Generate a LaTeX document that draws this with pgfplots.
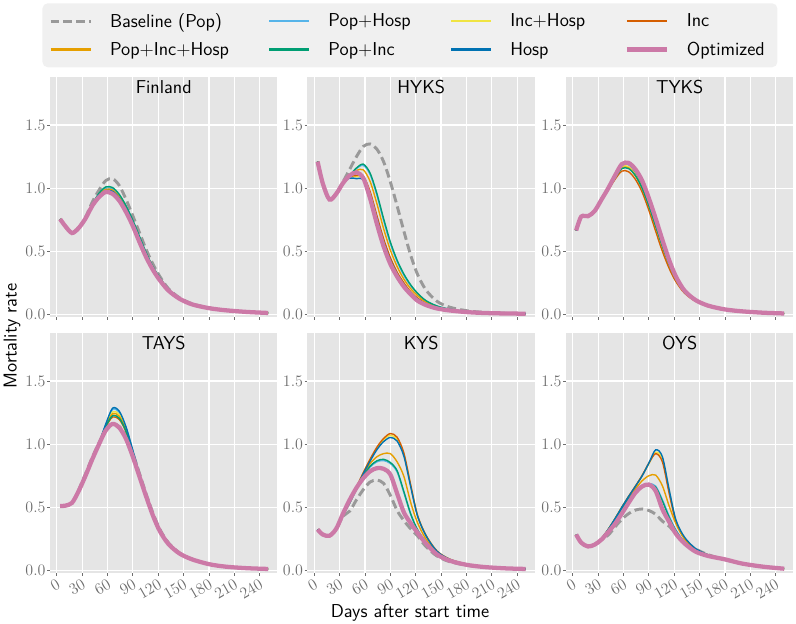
\documentclass[border=0pt]{standalone}
\usepackage{fontspec}
\usepackage{pgfplots}
\usepackage{pgfplotstable}
\pgfplotsset{compat=1.18}
\definecolor{panelbg}{RGB}{229,229,229}
\definecolor{legbg}{RGB}{240,240,240}
\definecolor{tickgray}{RGB}{110,110,110}
\definecolor{colBase}{RGB}{153,153,153}
\definecolor{colPopHosp}{RGB}{86,180,233}
\definecolor{colIncHosp}{RGB}{240,228,66}
\definecolor{colInc}{RGB}{213,94,0}
\definecolor{colPopIncHosp}{RGB}{230,159,0}
\definecolor{colPopInc}{RGB}{0,158,115}
\definecolor{colHosp}{RGB}{0,114,178}
\definecolor{colOpt}{RGB}{204,121,167}

\pgfplotstableread{
x base ph ih inc pih pi hosp opt
4 0.755 0.755 0.755 0.755 0.755 0.755 0.755 0.755
10 0.70 0.70 0.70 0.70 0.70 0.70 0.70 0.70
18 0.645 0.645 0.645 0.645 0.645 0.645 0.645 0.645
26 0.685 0.685 0.685 0.685 0.685 0.685 0.685 0.685
34 0.77 0.765 0.765 0.765 0.765 0.765 0.765 0.76
42 0.89 0.87 0.868 0.866 0.869 0.872 0.867 0.86
50 0.985 0.955 0.947 0.943 0.95 0.96 0.945 0.93
58 1.06 1.00 0.985 0.977 0.99 1.01 0.98 0.97
66 1.075 0.995 0.98 0.97 0.985 1.005 0.975 0.955
74 1.02 0.94 0.925 0.915 0.93 0.95 0.92 0.90
82 0.91 0.852 0.84 0.83 0.845 0.86 0.835 0.81
90 0.78 0.74 0.73 0.72 0.735 0.745 0.725 0.70
98 0.645 0.61 0.60 0.593 0.605 0.615 0.597 0.57
106 0.51 0.48 0.475 0.47 0.478 0.485 0.472 0.45
114 0.395 0.372 0.368 0.365 0.37 0.375 0.366 0.35
122 0.30 0.288 0.285 0.283 0.286 0.29 0.284 0.27
132 0.205 0.198 0.197 0.196 0.198 0.20 0.196 0.19
145 0.133 0.13 0.129 0.128 0.13 0.13 0.128 0.125
160 0.085 0.083 0.082 0.082 0.083 0.083 0.082 0.08
180 0.052 0.051 0.051 0.051 0.051 0.051 0.051 0.05
200 0.034 0.034 0.034 0.034 0.034 0.034 0.034 0.033
225 0.02 0.02 0.02 0.02 0.02 0.02 0.02 0.02
250 0.012 0.012 0.012 0.012 0.012 0.012 0.012 0.012
}\tFin

\pgfplotstableread{
x base ph ih inc pih pi hosp opt
4 1.21 1.21 1.21 1.21 1.21 1.21 1.21 1.21
10 1.04 1.04 1.04 1.04 1.04 1.04 1.04 1.04
18 0.91 0.91 0.91 0.91 0.91 0.91 0.91 0.91
26 0.955 0.955 0.955 0.955 0.955 0.955 0.955 0.955
34 1.05 1.04 1.04 1.04 1.04 1.04 1.04 1.04
42 1.15 1.10 1.09 1.09 1.10 1.10 1.08 1.10
50 1.25 1.155 1.09 1.10 1.14 1.16 1.075 1.125
58 1.33 1.18 1.085 1.095 1.145 1.19 1.07 1.08
66 1.35 1.11 0.965 0.975 1.055 1.12 0.95 0.92
74 1.31 0.945 0.775 0.785 0.88 0.96 0.76 0.72
82 1.21 0.745 0.59 0.60 0.68 0.76 0.575 0.54
90 1.05 0.56 0.44 0.45 0.51 0.575 0.43 0.40
98 0.86 0.42 0.33 0.335 0.38 0.43 0.32 0.30
106 0.66 0.31 0.245 0.25 0.28 0.32 0.237 0.22
114 0.47 0.228 0.178 0.18 0.205 0.235 0.172 0.16
122 0.32 0.165 0.128 0.13 0.15 0.17 0.124 0.11
132 0.195 0.107 0.087 0.088 0.097 0.11 0.084 0.075
145 0.105 0.066 0.055 0.055 0.06 0.068 0.053 0.048
160 0.058 0.041 0.035 0.035 0.038 0.042 0.034 0.032
180 0.03 0.024 0.02 0.02 0.022 0.024 0.02 0.019
200 0.017 0.015 0.013 0.013 0.014 0.015 0.013 0.012
225 0.01 0.009 0.008 0.008 0.008 0.009 0.008 0.008
250 0.007 0.006 0.006 0.006 0.006 0.006 0.006 0.006
}\tHyks

\pgfplotstableread{
x base ph ih inc pih pi hosp opt
4 0.665 0.665 0.665 0.665 0.665 0.665 0.665 0.665
10 0.775 0.775 0.775 0.775 0.775 0.775 0.775 0.775
18 0.778 0.778 0.778 0.778 0.778 0.778 0.778 0.778
26 0.82 0.82 0.82 0.82 0.82 0.82 0.82 0.82
34 0.91 0.905 0.905 0.90 0.905 0.905 0.905 0.91
42 1.00 0.995 0.99 0.985 0.99 0.99 0.995 1.00
50 1.10 1.09 1.085 1.07 1.08 1.08 1.09 1.10
58 1.19 1.18 1.17 1.135 1.16 1.155 1.185 1.19
66 1.20 1.185 1.17 1.13 1.16 1.155 1.19 1.20
74 1.15 1.125 1.11 1.07 1.10 1.10 1.13 1.15
82 1.06 1.03 1.01 0.97 1.00 1.00 1.035 1.06
90 0.92 0.89 0.87 0.825 0.86 0.86 0.895 0.92
98 0.76 0.73 0.705 0.66 0.695 0.70 0.735 0.76
106 0.59 0.565 0.545 0.50 0.535 0.54 0.57 0.59
114 0.43 0.41 0.40 0.365 0.39 0.395 0.415 0.43
122 0.30 0.287 0.28 0.26 0.275 0.278 0.29 0.30
132 0.19 0.183 0.18 0.17 0.177 0.178 0.185 0.19
145 0.115 0.112 0.11 0.105 0.109 0.11 0.112 0.115
160 0.07 0.069 0.068 0.066 0.068 0.068 0.069 0.07
180 0.04 0.04 0.04 0.04 0.04 0.04 0.04 0.04
200 0.025 0.025 0.025 0.025 0.025 0.025 0.025 0.025
225 0.014 0.014 0.014 0.014 0.014 0.014 0.014 0.014
250 0.008 0.008 0.008 0.008 0.008 0.008 0.008 0.008
}\tTyks

\pgfplotstableread{
x base ph ih inc pih pi hosp opt
4 0.51 0.51 0.51 0.51 0.51 0.51 0.51 0.51
10 0.513 0.513 0.513 0.513 0.513 0.513 0.513 0.513
18 0.535 0.535 0.535 0.535 0.535 0.535 0.535 0.535
26 0.64 0.63 0.63 0.63 0.63 0.63 0.63 0.63
34 0.765 0.75 0.75 0.75 0.75 0.75 0.75 0.75
42 0.895 0.88 0.88 0.88 0.88 0.88 0.88 0.88
50 1.01 1.01 1.01 1.005 1.005 1.005 1.01 1.00
58 1.115 1.155 1.15 1.135 1.145 1.14 1.16 1.11
66 1.16 1.275 1.255 1.215 1.24 1.225 1.285 1.16
74 1.14 1.25 1.235 1.195 1.22 1.205 1.26 1.13
82 1.06 1.13 1.12 1.095 1.11 1.10 1.135 1.04
90 0.925 0.945 0.94 0.925 0.935 0.93 0.95 0.90
98 0.765 0.758 0.755 0.748 0.752 0.75 0.76 0.74
106 0.60 0.584 0.583 0.58 0.582 0.58 0.585 0.58
114 0.45 0.434 0.433 0.43 0.432 0.43 0.435 0.43
122 0.325 0.312 0.311 0.31 0.311 0.31 0.313 0.31
132 0.22 0.21 0.21 0.21 0.21 0.21 0.21 0.21
145 0.14 0.135 0.135 0.135 0.135 0.135 0.135 0.135
160 0.09 0.088 0.088 0.088 0.088 0.088 0.088 0.088
180 0.05 0.05 0.05 0.05 0.05 0.05 0.05 0.05
200 0.03 0.03 0.03 0.03 0.03 0.03 0.03 0.03
225 0.018 0.018 0.018 0.018 0.018 0.018 0.018 0.018
250 0.012 0.012 0.012 0.012 0.012 0.012 0.012 0.012
}\tTays

\pgfplotstableread{
x base ph ih inc pih pi hosp opt
4 0.325 0.325 0.325 0.325 0.325 0.325 0.325 0.325
10 0.285 0.285 0.285 0.285 0.285 0.285 0.285 0.285
18 0.275 0.275 0.275 0.275 0.275 0.275 0.275 0.275
26 0.33 0.33 0.33 0.33 0.33 0.33 0.33 0.33
34 0.43 0.44 0.44 0.44 0.44 0.44 0.44 0.45
42 0.47 0.535 0.54 0.54 0.537 0.535 0.538 0.56
50 0.56 0.643 0.658 0.66 0.65 0.645 0.655 0.655
58 0.64 0.742 0.77 0.775 0.755 0.745 0.765 0.73
66 0.70 0.818 0.875 0.88 0.845 0.825 0.865 0.785
74 0.716 0.86 0.965 0.975 0.90 0.868 0.955 0.81
82 0.69 0.87 1.035 1.045 0.925 0.88 1.02 0.805
90 0.595 0.847 1.07 1.084 0.925 0.855 1.053 0.76
98 0.475 0.78 1.04 1.055 0.86 0.79 1.025 0.61
106 0.395 0.615 0.92 0.93 0.745 0.625 0.905 0.46
114 0.33 0.445 0.675 0.68 0.54 0.45 0.665 0.375
122 0.275 0.32 0.44 0.44 0.38 0.325 0.435 0.30
132 0.19 0.225 0.28 0.28 0.25 0.228 0.277 0.215
145 0.115 0.135 0.155 0.155 0.145 0.137 0.153 0.128
160 0.07 0.08 0.09 0.09 0.086 0.082 0.089 0.078
180 0.042 0.046 0.05 0.05 0.048 0.046 0.049 0.045
200 0.027 0.028 0.03 0.03 0.029 0.028 0.03 0.028
225 0.017 0.017 0.018 0.018 0.018 0.017 0.018 0.017
250 0.012 0.012 0.012 0.012 0.012 0.012 0.012 0.012
}\tKys

\pgfplotstableread{
x base ph ih inc pih pi hosp opt
4 0.285 0.285 0.285 0.285 0.285 0.285 0.285 0.285
10 0.22 0.22 0.22 0.22 0.22 0.22 0.22 0.22
18 0.19 0.19 0.19 0.19 0.19 0.19 0.19 0.19
26 0.205 0.205 0.205 0.205 0.205 0.205 0.205 0.205
34 0.245 0.252 0.252 0.252 0.252 0.252 0.252 0.245
42 0.28 0.325 0.325 0.325 0.325 0.325 0.325 0.305
50 0.345 0.405 0.41 0.41 0.408 0.405 0.41 0.37
58 0.405 0.49 0.50 0.50 0.497 0.49 0.50 0.45
66 0.45 0.568 0.585 0.586 0.575 0.565 0.585 0.535
74 0.478 0.635 0.665 0.667 0.645 0.628 0.665 0.615
82 0.487 0.675 0.75 0.752 0.71 0.668 0.748 0.665
90 0.475 0.688 0.845 0.85 0.75 0.68 0.85 0.68
98 0.445 0.668 0.935 0.925 0.755 0.66 0.955 0.63
106 0.39 0.56 0.885 0.86 0.67 0.55 0.90 0.485
114 0.35 0.43 0.63 0.61 0.51 0.42 0.64 0.385
122 0.29 0.32 0.395 0.385 0.37 0.315 0.40 0.29
132 0.215 0.228 0.26 0.255 0.25 0.225 0.265 0.215
145 0.17 0.16 0.172 0.17 0.165 0.158 0.175 0.15
160 0.125 0.118 0.125 0.123 0.12 0.118 0.125 0.115
180 0.085 0.088 0.09 0.09 0.089 0.088 0.09 0.088
200 0.055 0.055 0.055 0.055 0.055 0.055 0.055 0.055
225 0.03 0.03 0.03 0.03 0.03 0.03 0.03 0.03
250 0.014 0.014 0.014 0.014 0.014 0.014 0.014 0.014
}\tOys

\pgfplotsset{
  panel/.style={
    scale only axis, width=170.6pt, height=180pt, anchor=north west,
    xmin=-8, xmax=261, ymin=-0.02, ymax=1.88,
    xtick={0,30,...,240}, ytick={0,0.5,1,1.5},
    axis background/.style={fill=panelbg},
    axis line style={draw=none},
    grid=major, major grid style={white, line width=0.9pt},
    tick align=outside, tick pos=left, major tick length=2.2pt,
    tick style={tickgray, line width=0.7pt},
    tick label style={font=\fontsize{13}{15}\selectfont, color=tickgray},
    yticklabel style={inner xsep=1pt, /pgf/number format/.cd, fixed, fixed zerofill, precision=1},
    title style={at={(0.5,1)}, anchor=north, inner sep=0pt, yshift=-8.5pt, font=\fontsize{14}{17}\selectfont\sffamily},
  },
  toprow/.style={xticklabels={}},
  botrow/.style={xticklabel style={rotate=30, anchor=north east, inner sep=1.5pt}},
  thinleg/.style={legend image code/.code={\draw[##1, line width=1.7pt] (0pt,0pt) -- (30pt,0pt);}},
  sBase/.style={draw=colBase, line width=2.2pt, dash pattern=on 6.5pt off 3.2pt, smooth, mark=none},
  sPopHosp/.style={draw=colPopHosp, line width=1.05pt, smooth, mark=none, thinleg},
  sIncHosp/.style={draw=colIncHosp, line width=1.05pt, smooth, mark=none, thinleg},
  sInc/.style={draw=colInc, line width=1.05pt, smooth, mark=none, thinleg},
  sPopIncHosp/.style={draw=colPopIncHosp, line width=1.05pt, smooth, mark=none, thinleg},
  sPopInc/.style={draw=colPopInc, line width=1.05pt, smooth, mark=none, thinleg},
  sHosp/.style={draw=colHosp, line width=1.05pt, smooth, mark=none, thinleg},
  sOpt/.style={draw=colOpt, line width=3.2pt, smooth, mark=none},
}

\newcommand{\allplots}[1]{%
  \addplot[sBase] table[x=x,y=base]{#1};
  \addplot[sPopHosp] table[x=x,y=ph]{#1};
  \addplot[sIncHosp] table[x=x,y=ih]{#1};
  \addplot[sInc] table[x=x,y=inc]{#1};
  \addplot[sPopIncHosp] table[x=x,y=pih]{#1};
  \addplot[sPopInc] table[x=x,y=pi]{#1};
  \addplot[sHosp] table[x=x,y=hosp]{#1};
  \addplot[sOpt] table[x=x,y=opt]{#1};
}

\begin{document}
\begin{tikzpicture}
\useasboundingbox (0pt,0pt) rectangle (597pt,-468pt);

\begin{axis}[panel, toprow, at={(37.5pt,-57.75pt)}, title={Finland},
  legend columns=4, legend cell align=left,
  legend image code/.code={\draw[#1] (0pt,0pt) -- (30pt,0pt);},
  legend style={at={(1.5824,1.3083)}, anchor=north, fill=legbg, draw=none,
    rounded corners=4pt, font=\fontsize{14}{16}\selectfont\sffamily,
    inner xsep=5pt, inner ysep=5.5pt, row sep=5.5pt,
    nodes={inner xsep=4.5pt, inner ysep=2pt},
    /tikz/every even column/.append style={column sep=25pt},
    /tikz/every odd column/.append style={column sep=9pt}}]
\allplots{\tFin}
\legend{Baseline (Pop), Pop+Hosp, Inc+Hosp, Inc, Pop+Inc+Hosp, Pop+Inc, Hosp, Optimized}
\end{axis}

\begin{axis}[panel, toprow, at={(230.6pt,-57.75pt)}, title={HYKS}]
\allplots{\tHyks}
\end{axis}

\begin{axis}[panel, toprow, at={(424.5pt,-57.75pt)}, title={TYKS}]
\allplots{\tTyks}
\end{axis}

\begin{axis}[panel, botrow, at={(37.5pt,-249.75pt)}, title={TAYS}]
\allplots{\tTays}
\end{axis}

\begin{axis}[panel, botrow, at={(230.6pt,-249.75pt)}, title={KYS}]
\allplots{\tKys}
\end{axis}

\begin{axis}[panel, botrow, at={(424.5pt,-249.75pt)}, title={OYS}]
\allplots{\tOys}
\end{axis}

\node[rotate=90, anchor=base, font=\fontsize{14}{17}\selectfont\sffamily] at (12.5pt,-252pt) {Mortality rate};
\node[anchor=base, font=\fontsize{14}{17}\selectfont\sffamily] at (307.5pt,-463.3pt) {Days after start time};
\end{tikzpicture}
\end{document}
